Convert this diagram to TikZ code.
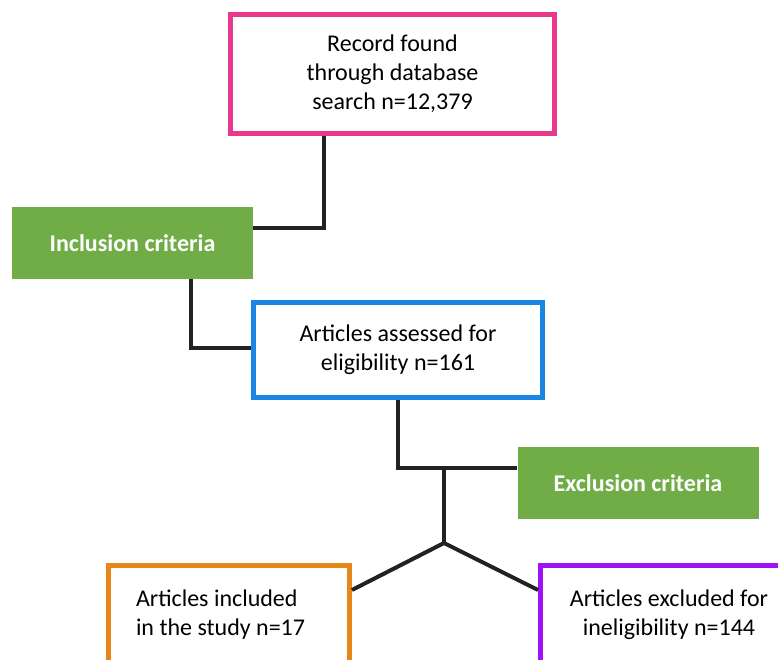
\documentclass[tikz,border=0pt]{standalone}
\usepackage{fontspec}
\setmainfont{Carlito}
\definecolor{pinkc}{HTML}{E8398C}
\definecolor{bluec}{HTML}{1A86E4}
\definecolor{critgreen}{HTML}{70AD47}
\definecolor{orangec}{HTML}{E6871A}
\definecolor{purplec}{HTML}{A012F5}
\definecolor{linkc}{HTML}{222222}
\begin{document}
\begin{tikzpicture}[x=1pt,y=-1pt,
  box/.style={draw, line width=5pt, fill=white, font=\fontsize{24}{29}\selectfont, align=center, inner sep=0pt},
  crit/.style={fill=critgreen, text=white, font=\fontsize{24}{28}\selectfont\bfseries, inner sep=0pt, minimum width=241pt, minimum height=72pt},
  link/.style={draw=linkc, line width=4pt}]
\clip (0,0) rectangle (778,660);
\fill[white] (0,0) rectangle (778,660);
\node[box, draw=pinkc, minimum width=324pt, minimum height=119pt] (pink) at (392.5,74) {Record found\\through database\\search n=12,379};
\node[crit] (incl) at (132.5,243) {Inclusion criteria};
\node[box, draw=bluec, minimum width=289pt, minimum height=95pt] (blue) at (398,350) {Articles assessed for\\eligibility n=161};
\node[crit] (excl) at (638,483) {Exclusion criteria};
\node[box, draw=orangec, minimum width=241pt, minimum height=99pt, text width=186pt, align=flush left] (orange) at (229,615) {Articles included\\in the study n=17};
\node[box, draw=purplec, minimum width=257pt, minimum height=99pt] (purple) at (669,615) {Articles excluded for\\ineligibility n=144};
\coordinate (c1) at (324,228);
\coordinate (c2) at (191,348);
\coordinate (c3) at (398,468);
\coordinate (c4) at (444,468);
\coordinate (c5) at (444,543);
\coordinate (c6) at (350,590);
\coordinate (c7) at (540,590);
\draw[link] (c1 |- pink.south) -- (c1) -- (c1 -| incl.east);
\draw[link] (c2 |- incl.south) -- (c2) -- (c2 -| blue.west);
\draw[link] (c3 |- blue.south) -- (c3) -- (c3 -| excl.west);
\draw[link] (c4) -- (c5);
\draw[link] (c6 -| orange.east) -- (c5) -- (c7 -| purple.west);
\end{tikzpicture}
\end{document}
